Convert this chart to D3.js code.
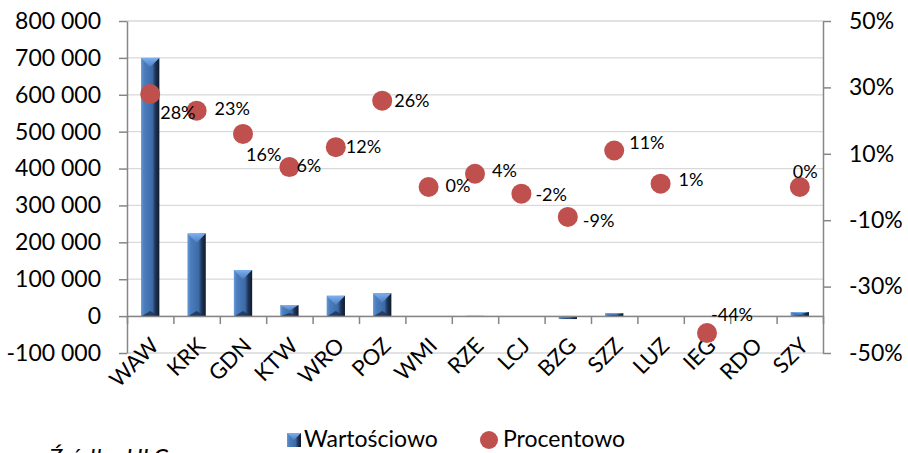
<!DOCTYPE html>
<html>
<head>
<meta charset="utf-8">
<script src="https://cdn.jsdelivr.net/npm/d3@7"></script>
<style>
  body { margin: 0; background: #fff; }
  svg { display: block; }
  text { font-family: Lato, "Open Sans", sans-serif; fill: #000; }
</style>
</head>
<body>
<svg id="chart" width="908" height="453"></svg>
<script>
// Airports
const categories = ["WAW", "KRK", "GDN", "KTW", "WRO", "POZ", "WMI", "RZE", "LCJ", "BZG", "SZZ", "LUZ", "IEG", "RDO", "SZY"];
// Change in absolute numbers (left axis)
const valueSeries = [700000, 224000, 125000, 30000, 55000, 62000, -1500, 1500, 300, -8000, 8000, 0, -800, 0, 11000];
// Change in percent (right axis); RDO has no value
const percentSeries = [28, 23, 16, 6, 12, 26, 0, 4, -2, -9, 11, 1, -44, null, 0];
const leftTicks = [-100000, 0, 100000, 200000, 300000, 400000, 500000, 600000, 700000, 800000];
const rightTicks = [-50, -30, -10, 10, 30, 50];
const seriesNames = ["Wartościowo", "Procentowo"];
const sourceNote = "Źródło: ULC";

const svg = d3.select("#chart");
const plot = { left: 127, right: 823, top: 21, bottom: 353 };
const axisColor = "#868686";
const gridColor = "#d9d9d9";
const dotColor = "#c0504d";

const x = d3.scaleBand().domain(categories).range([plot.left, plot.right]).padding(0);
const step = x.step();
const barWidth = step * 0.395;
const yLeft = d3.scaleLinear().domain([-100000, 800000]).range([plot.bottom, plot.top]);
const yRight = d3.scaleLinear().domain([-50, 50]).range([plot.bottom, plot.top]);

const pl = d3.formatLocale({ decimal: ",", thousands: " ", grouping: [3], currency: ["", " zł"], minus: "-" });
const fmtThousands = pl.format(",d");

// gradients for the bevelled bars
const defs = svg.append("defs");
const bodyGrad = defs.append("linearGradient").attr("id", "barBody").attr("x1", 0).attr("x2", 1).attr("y1", 0).attr("y2", 0);
[["0%", "#6a9ad8"], ["14%", "#4f81c2"], ["20%", "#4a7cbc"], ["62%", "#3d6aa6"], ["78%", "#1f3558"], ["100%", "#0f1a2c"]]
  .forEach(([o, c]) => bodyGrad.append("stop").attr("offset", o).attr("stop-color", c));
const topGrad = defs.append("linearGradient").attr("id", "barTop").attr("x1", 0).attr("x2", 0).attr("y1", 0).attr("y2", 1);
[["0%", "#7fb0ee"], ["100%", "#4a7fc4"]].forEach(([o, c]) => topGrad.append("stop").attr("offset", o).attr("stop-color", c));

// horizontal gridlines
svg.append("g")
  .selectAll("line")
  .data(leftTicks)
  .join("line")
  .attr("x1", plot.left).attr("x2", plot.right)
  .attr("y1", d => yLeft(d)).attr("y2", d => yLeft(d))
  .attr("stroke", gridColor).attr("stroke-width", 1.3);

// left axis
const gL = svg.append("g").attr("transform", `translate(${plot.left},0)`)
  .call(d3.axisLeft(yLeft).tickValues(leftTicks).tickSize(8).tickSizeOuter(0).tickPadding(18).tickFormat(fmtThousands));
// right axis
const gR = svg.append("g").attr("transform", `translate(${plot.right},0)`)
  .call(d3.axisRight(yRight).tickValues(rightTicks).tickSize(8).tickSizeOuter(0).tickPadding(18).tickFormat(d => d + "%"));
[gL, gR].forEach(g => {
  g.select(".domain").attr("stroke", axisColor).attr("stroke-width", 1.5);
  g.selectAll(".tick line").attr("stroke", axisColor).attr("stroke-width", 1.5);
  g.selectAll(".tick text").attr("font-size", 23).attr("font-family", "Lato, sans-serif").attr("fill", "#000");
});

// bars
const bars = svg.append("g");
categories.forEach((c, i) => {
  const v = valueSeries[i];
  const x0 = x(c) + (step - barWidth) / 2;
  const yv = yLeft(v), y0 = yLeft(0);
  const top = Math.min(yv, y0);
  const h = Math.abs(yv - y0);
  if (h <= 0) return;
  bars.append("rect").attr("x", x0).attr("y", top).attr("width", barWidth).attr("height", h)
    .attr("fill", h < 2 ? "#8db4e2" : "url(#barBody)");
  if (h >= 2) {
    const b = Math.min(barWidth / 2, h / 2);
    bars.append("polygon")
      .attr("points", [[x0, top], [x0 + barWidth, top], [x0 + barWidth / 2, top + b]].map(p => p.join(",")).join(" "))
      .attr("fill", "url(#barTop)");
    bars.append("polygon")
      .attr("points", [[x0 + 1, top + h], [x0 + barWidth - 1, top + h], [x0 + barWidth / 2, top + h - b * 0.55]].map(p => p.join(",")).join(" "))
      .attr("fill", "#1e3557").attr("opacity", 0.85);
  }
});

// category axis along zero
const xb = d3.scaleLinear().domain([0, categories.length]).range([plot.left, plot.right]);
const gX = svg.append("g").attr("transform", `translate(0,${yLeft(0)})`)
  .call(d3.axisBottom(xb).tickValues(d3.range(0, categories.length + 1)).tickSize(8).tickSizeOuter(0).tickFormat(""));
gX.select(".domain").attr("stroke", axisColor).attr("stroke-width", 1.5);
gX.selectAll(".tick line").attr("stroke", axisColor).attr("stroke-width", 1.5);

// rotated category labels
svg.append("g")
  .selectAll("text")
  .data(categories)
  .join("text")
  .attr("transform", d => `translate(${x(d) + step / 2 + 10},${yLeft(0) + 31}) rotate(-45)`)
  .attr("text-anchor", "end")
  .attr("font-size", 22)
  .text(d => d);

// percent points
const pts = categories.map((c, i) => ({ c, v: percentSeries[i] })).filter(d => d.v !== null);
svg.append("g")
  .selectAll("circle")
  .data(pts)
  .join("circle")
  .attr("cx", d => x(d.c) + step / 2)
  .attr("cy", d => yRight(d.v))
  .attr("r", 10)
  .attr("fill", dotColor);

// data labels for the percent series
const labelShift = {
  WAW: [10, 19], KRK: [18, -2], GDN: [3, 21], KTW: [7, -1], WRO: [10, 0], POZ: [12, 0],
  WMI: [17, -1], RZE: [17, -3], LCJ: [14, 1], BZG: [15, 4], SZZ: [15, -8], LUZ: [18, -4],
  IEG: [4, -18], SZY: [-7, -15]
};
svg.append("g")
  .selectAll("text")
  .data(pts)
  .join("text")
  .attr("x", d => x(d.c) + step / 2 + labelShift[d.c][0])
  .attr("y", d => yRight(d.v) + labelShift[d.c][1])
  .attr("dy", "0.35em")
  .attr("font-size", 18)
  .text(d => d.v + "%");

// legend
const lg = svg.append("g");
lg.append("rect").attr("x", 287).attr("y", 433).attr("width", 14).attr("height", 14).attr("fill", "url(#barBody)");
lg.append("polygon").attr("points", "287,433 301,433 294,440").attr("fill", "url(#barTop)");
lg.append("text").attr("x", 304).attr("y", 447).attr("font-size", 23).text(seriesNames[0]);
lg.append("circle").attr("cx", 489).attr("cy", 440).attr("r", 9).attr("fill", dotColor);
lg.append("text").attr("x", 503).attr("y", 447).attr("font-size", 23).text(seriesNames[1]);

// source note, running off the bottom edge
svg.append("text").attr("x", 49).attr("y", 466)
  .attr("font-family", "'Liberation Serif', 'DejaVu Serif', serif")
  .attr("font-style", "italic").attr("font-size", 24)
  .text(sourceNote);
</script>
</body>
</html>
